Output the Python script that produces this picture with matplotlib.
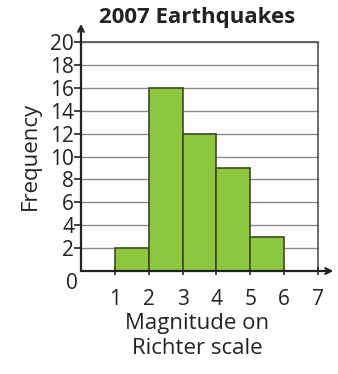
import matplotlib.pyplot as plt

# histogram data
bin_edges = [1, 2, 3, 4, 5, 6]
freqs = [2, 16, 12, 9, 3]
x_ticks = [1, 2, 3, 4, 5, 6, 7]
y_ticks = [2, 4, 6, 8, 10, 12, 14, 16, 18, 20]

plt.rcParams['font.family'] = ['Open Sans', 'DejaVu Sans']
ink = '#222222'

fig = plt.figure(figsize=(3.38, 3.74), dpi=100)
ax = fig.add_axes([0.2396, 0.2754, 0.7515, 0.667])
ax.set_xlim(0, 7.5)
ax.set_ylim(0, 21.8)

# grid (only inside 0..7, 0..20)
for y in y_ticks:
    ax.plot([0, 7], [y, y], color='#8a8a8a', lw=1.0, zorder=1)
ax.plot([7, 7], [0, 20], color='#555555', lw=1.2, zorder=1)
ax.plot([0, 7], [20, 20], color='#555555', lw=1.2, zorder=1)

widths = [bin_edges[i + 1] - bin_edges[i] for i in range(len(freqs))]
ax.bar(bin_edges[:-1], freqs, width=widths, align='edge',
       color='#8dc63f', edgecolor='#3d4a22', lw=1.2, zorder=2)

# axes with arrows
for s in ax.spines.values():
    s.set_visible(False)
ax.annotate('', xy=(0, 21.6), xytext=(0, 0),
            arrowprops=dict(arrowstyle='->', lw=1.6, color=ink,
                            shrinkA=0, shrinkB=0), zorder=3)
ax.annotate('', xy=(7.45, 0), xytext=(0, 0),
            arrowprops=dict(arrowstyle='->', lw=1.6, color=ink,
                            shrinkA=0, shrinkB=0), zorder=3)

ax.set_xticks(x_ticks)
ax.set_yticks(y_ticks)
ax.tick_params(axis='x', length=6, width=1.2, pad=10, labelsize=15,
               colors=ink, direction='inout')
ax.tick_params(axis='y', length=5, width=1.2, pad=0, labelsize=15,
               colors=ink, direction='out')
ax.text(-0.27, -1.05, '0', ha='center', va='center', fontsize=15, color=ink)

fig.text(197 / 338, 1 - 17 / 374, '2007 Earthquakes', ha='center',
         va='center', fontsize=16, fontweight='bold', color=ink)
fig.text(30 / 338, 1 - 156 / 374, 'Frequency', ha='center', va='center',
         rotation=90, fontsize=16, color=ink)
fig.text(197 / 338, 1 - 336 / 374, 'Magnitude on\nRichter scale',
         ha='center', va='center', fontsize=16, color=ink, linespacing=1.25)

fig.savefig('out.png', dpi=100)
